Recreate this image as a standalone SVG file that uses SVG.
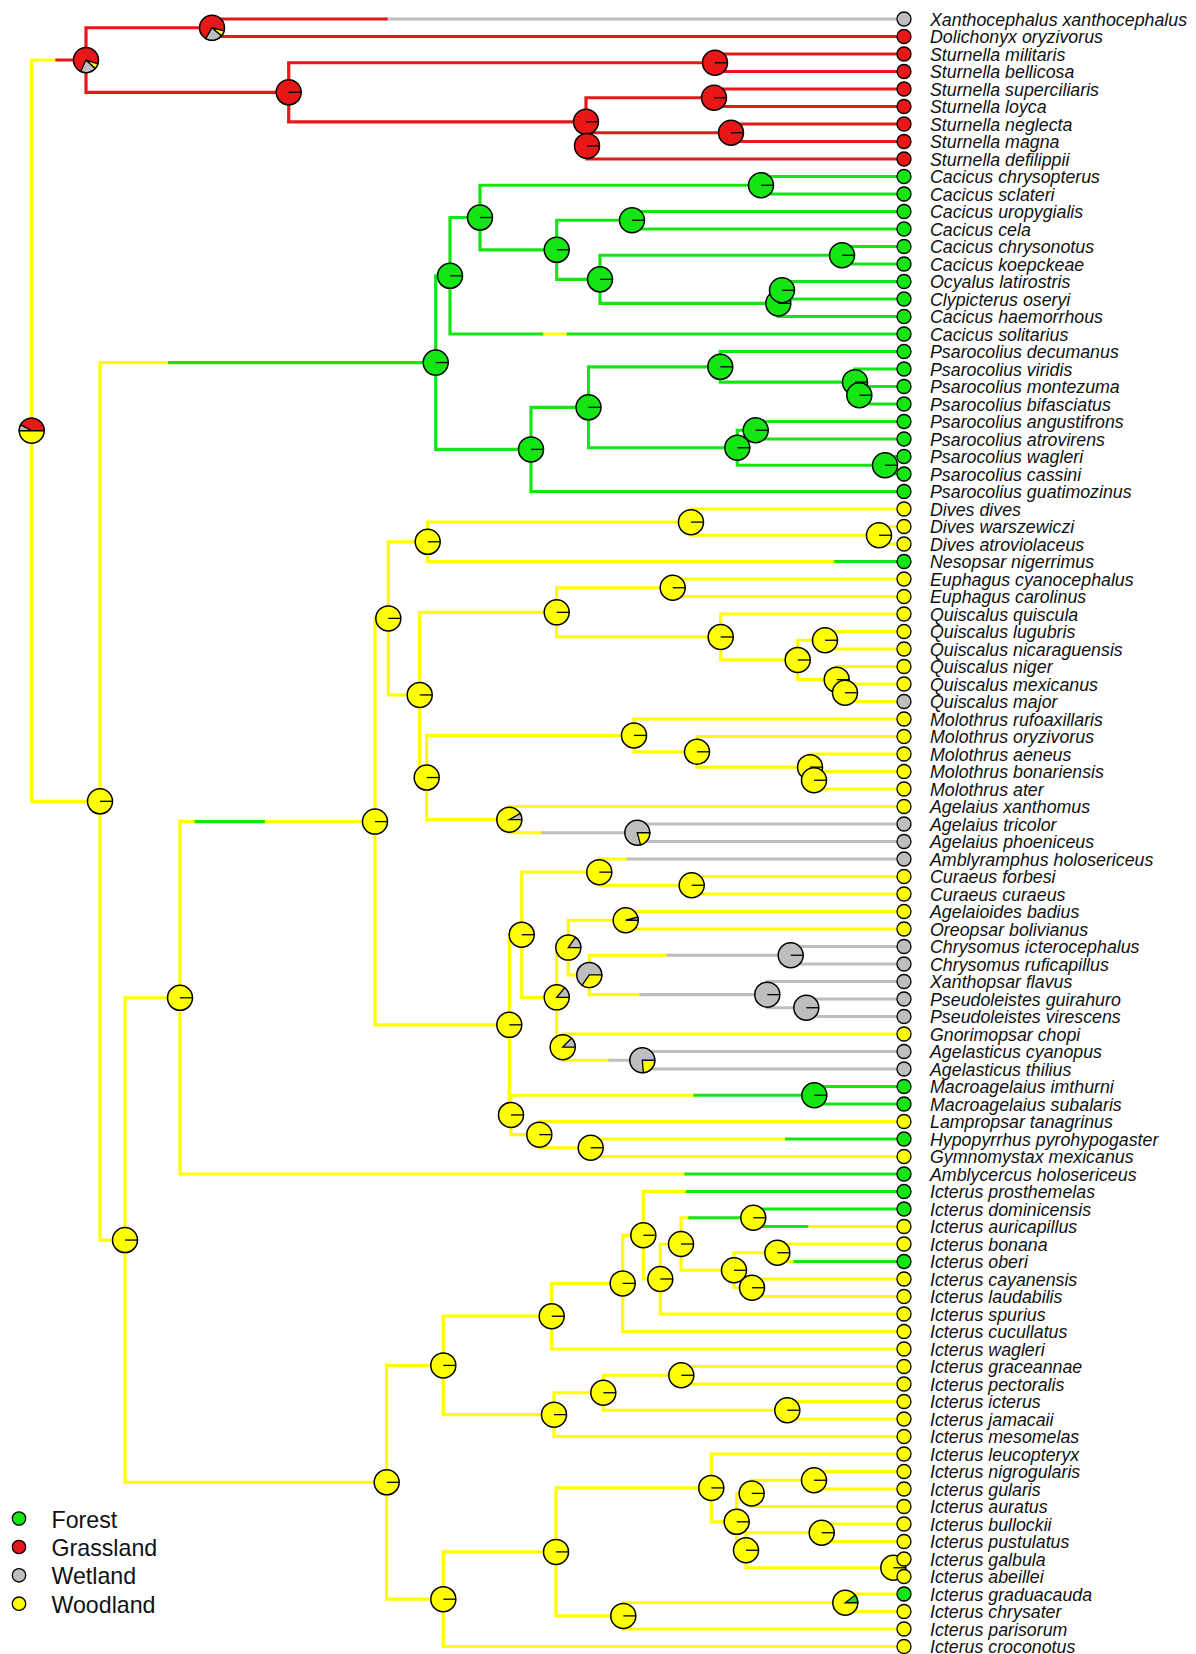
<svg xmlns="http://www.w3.org/2000/svg" width="1196" height="1654" viewBox="0 0 1196 1654">
<style>
.br{fill:none;stroke-width:3.2;stroke-linecap:square}
.cy{stroke:#ffff00}.cg{stroke:#14e614}.cw{stroke:#bebebe}.cr{stroke:#e81818}
.fy{fill:#ffff00}.fg{fill:#14e614}.fw{fill:#bebebe}.fr{fill:#e81818}
.n circle{stroke:#000;stroke-width:1.5}
.n path{stroke:#000;stroke-width:1.3}
.rad{fill:none}
.tip circle{stroke:#000;stroke-width:1.3}
.tip text{font-family:"Liberation Sans",Arial,sans-serif;font-style:italic;font-size:17.8px;fill:#111}
.leg circle{stroke:#000;stroke-width:1.3}
.leg text{font-family:"Liberation Sans",Arial,sans-serif;font-size:23.2px;fill:#111}
</style>
<rect width="1196" height="1654" fill="#fff"/>
<g id="connectors">
<path class="br cy" d="M31.7 60.02V801.3M31.7 60.02H57M31.7 801.3H100M100 362.58V1240.05M100 362.58H169.7M100 1240.05H125M541.7 334H568.3M125 997.8V1482.3M125 997.8H180M125 1482.3H386.7M180 821.61V1174M180 821.61H196M263.3 821.61H375M180 1174H686M375 618.38V1024.84M375 618.38H388.3M375 1024.84H509.3M388.3 541.81V694.94M388.3 541.81H427.7M388.3 694.94H419.7M427.7 522.13V561.5M427.7 522.13H691M427.7 561.5H835.7M691 509V535.25M691 509H904M691 535.25H879M879 526.5V544M879 526.5H904M879 544H904M419.7 612.36V777.52M419.7 612.36H556.7M419.7 777.52H426.7M556.7 587.75V636.97M556.7 587.75H672.7M556.7 636.97H720.7M672.7 579V596.5M672.7 579H904M672.7 596.5H904M720.7 614V659.94M720.7 614H904M720.7 659.94H797.7M797.7 640.25V679.63M797.7 640.25H825M797.7 679.63H836.7M825 631.5V649M825 631.5H904M825 649H904M836.7 666.5V692.75M836.7 666.5H904M836.7 692.75H845M845 684V701.5M845 684H904M845 701.5H904M426.7 735.41V819.63M426.7 735.41H634M426.7 819.63H509.3M634 719V751.81M634 719H904M634 751.81H697M697 736.5V767.13M697 736.5H904M697 767.13H810M810 754V780.25M810 754H904M810 780.25H814M814 771.5V789M814 771.5H904M814 789H904M509.3 806.5V832.75M509.3 806.5H904M509.3 832.75H542.7M509.3 934.74V1114.94M509.3 934.74H521.7M509.3 1114.94H511M521.7 872.13V997.36M521.7 872.13H599.3M521.7 997.36H556.7M599.3 859V885.25M599.3 859H628.3M599.3 885.25H691.7M691.7 876.5V894M691.7 876.5H904M691.7 894H904M556.7 947.59V1047.13M556.7 947.59H568.3M556.7 1047.13H562.7M568.3 920.25V974.94M568.3 920.25H625.7M568.3 974.94H589.3M625.7 911.5V929M625.7 911.5H904M625.7 929H904M589.3 955.25V994.63M589.3 955.25H668.3M589.3 994.63H641M562.7 1034V1060.25M562.7 1034H904M562.7 1060.25H610M511 1095.25V1134.63M511 1095.25H695M511 1134.63H539.3M539.3 1121.5V1147.75M539.3 1121.5H904M539.3 1147.75H590.7M590.7 1139V1156.5M590.7 1139H786.7M590.7 1156.5H904M386.7 1365.41V1599.2M386.7 1365.41H443.3M386.7 1599.2H443.3M443.3 1316.19V1414.63M443.3 1316.19H551.7M443.3 1414.63H554M551.7 1283.38V1349M551.7 1283.38H622.7M551.7 1349H904M622.7 1235.25V1331.5M622.7 1235.25H643.3M622.7 1331.5H904M643.3 1191.5V1279M643.3 1191.5H687.3M643.3 1279H660.3M660.3 1244V1314M660.3 1244H681M660.3 1314H904M681 1217.75V1270.25M681 1217.75H690M681 1270.25H734M806.7 1226.5H904M734 1252.75V1287.75M734 1252.75H777.3M734 1287.75H752M777.3 1244V1261.5M777.3 1244H904M777.3 1261.5H795M752 1279V1296.5M752 1279H904M752 1296.5H904M554 1392.75V1436.5M554 1392.75H603.3M554 1436.5H904M603.3 1375.25V1410.25M603.3 1375.25H681.3M603.3 1410.25H787.3M681.3 1366.5V1384M681.3 1366.5H904M681.3 1384H904M787.3 1401.5V1419M787.3 1401.5H904M787.3 1419H904M443.3 1551.89V1646.5M443.3 1551.89H556M443.3 1646.5H904M556 1487.91V1615.88M556 1487.91H711.3M556 1615.88H623.3M711.3 1454V1521.81M711.3 1454H904M711.3 1521.81H736.7M736.7 1493.38V1550.25M736.7 1493.38H751.7M736.7 1550.25H746M751.7 1480.25V1506.5M751.7 1480.25H814M751.7 1506.5H904M814 1471.5V1489M814 1471.5H904M814 1489H904M746 1532.75V1567.75M746 1532.75H821.7M746 1567.75H893.3M821.7 1524V1541.5M821.7 1524H904M821.7 1541.5H904M893.3 1559V1576.5M893.3 1559H904M893.3 1576.5H904M623.3 1602.75V1629M623.3 1602.75H845.3M623.3 1629H904M845.3 1594V1611.5M845.3 1594H904M845.3 1611.5H904"/>
<path class="br cg" d="M169.7 362.58H435.7M435.7 275.76V449.39M435.7 275.76H450M435.7 449.39H531M450 217.52V334M450 334H541.7M568.3 334H904M450 217.52H480M480 185.25V249.78M480 185.25H761M480 249.78H556.7M761 176.5V194M761 176.5H904M761 194H904M556.7 220.25V279.31M556.7 220.25H632M556.7 279.31H600M632 211.5V229M632 211.5H904M632 229H904M600 255.25V303.38M600 255.25H842M600 303.38H778.3M842 246.5V264M842 246.5H904M842 264H904M778.3 290.25V316.5M778.3 290.25H782M778.3 316.5H904M782 281.5V299M782 281.5H904M782 299H904M531 407.28V491.5M531 407.28H588.5M531 491.5H904M588.5 366.81V447.75M588.5 366.81H720.3M588.5 447.75H737.3M720.3 351.5V382.13M720.3 351.5H904M720.3 382.13H855M855 369V395.25M855 369H904M855 395.25H859.3M859.3 386.5V404M859.3 386.5H904M859.3 404H904M737.3 430.25V465.25M737.3 430.25H755.7M737.3 465.25H885M755.7 421.5V439M755.7 421.5H904M755.7 439H904M885 456.5V474M885 456.5H904M885 474H904M835.7 561.5H904M196 821.61H263.3M686 1174H904M695 1095.25H814.3M814.3 1086.5V1104M814.3 1086.5H904M814.3 1104H904M786.7 1139H904M687.3 1191.5H904M690 1217.75H753.3M753.3 1209V1226.5M753.3 1209H904M753.3 1226.5H806.7M795 1261.5H904"/>
<path class="br cw" d="M386 19H904M542.7 832.75H637.3M637.3 824V841.5M637.3 824H904M637.3 841.5H904M628.3 859H904M668.3 955.25H790.7M641 994.63H767.3M790.7 946.5V964M790.7 946.5H904M790.7 964H904M767.3 981.5V1007.75M767.3 981.5H904M767.3 1007.75H806.3M806.3 999V1016.5M806.3 999H904M806.3 1016.5H904M610 1060.25H642.3M642.3 1051.5V1069M642.3 1051.5H904M642.3 1069H904"/>
<path class="br cr" d="M57 60.02H86M86 27.75V92.28M86 27.75H212M86 92.28H288.7M212 19V36.5M212 19H386M212 36.5H904M288.7 62.75V121.81M288.7 62.75H715M288.7 121.81H586M715 54V71.5M715 54H904M715 71.5H904M586 97.75V145.88M586 97.75H714M586 145.88H587M714 89V106.5M714 89H904M714 106.5H904M587 132.75V159M587 132.75H731M587 159H904M731 124V141.5M731 124H904M731 141.5H904"/>
</g>
<g id="nodes" class="n">
<g id="n_root" transform="translate(31.7,430.7)"><circle r="12.5" class="fy"/><path class="fr" d="M0 0L12.5 0A12.5 12.5 0 0 0 -11.04 -5.87Z"/><path class="fw" d="M0 0L-11.04 -5.87A12.5 12.5 0 0 0 -12.5 0Z"/><path class="rad" d="M-12.5 0H12.5"/></g>
<g id="n_A" transform="translate(86,60.02)"><circle r="12.5" class="fr"/><path class="fw" d="M0 0L-5.28 11.33A12.5 12.5 0 0 0 9.29 8.36Z"/><path class="fy" d="M0 0L9.29 8.36A12.5 12.5 0 0 0 11.89 3.86Z"/></g>
<g id="n_B" transform="translate(212,27.75)"><circle r="12.5" class="fr"/><path class="fw" d="M0 0L-6.25 10.83A12.5 12.5 0 0 0 9.58 8.03Z"/><path class="fy" d="M0 0L9.58 8.03A12.5 12.5 0 0 0 12.07 3.24Z"/></g>
<g id="n_C" transform="translate(288.7,92.28)"><circle r="12.5" class="fr"/><path class="rad" d="M0 0H12.5"/></g>
<g id="n_D" transform="translate(715,62.75)"><circle r="12.5" class="fr"/><path class="rad" d="M0 0H12.5"/></g>
<g id="n_E" transform="translate(586,121.81)"><circle r="12.5" class="fr"/><path class="rad" d="M0 0H12.5"/></g>
<g id="n_F" transform="translate(714,97.75)"><circle r="12.5" class="fr"/><path class="rad" d="M0 0H12.5"/></g>
<g id="n_G" transform="translate(587,145.88)"><circle r="12.5" class="fr"/><path class="rad" d="M0 0H12.5"/></g>
<g id="n_H" transform="translate(731,132.75)"><circle r="12.5" class="fr"/><path class="rad" d="M0 0H12.5"/></g>
<g id="n_Cc1" transform="translate(761,185.25)"><circle r="12.5" class="fg"/><path class="rad" d="M0 0H12.5"/></g>
<g id="n_Cc2" transform="translate(480,217.52)"><circle r="12.5" class="fg"/><path class="rad" d="M0 0H12.5"/></g>
<g id="n_Cc3" transform="translate(556.7,249.78)"><circle r="12.5" class="fg"/><path class="rad" d="M0 0H12.5"/></g>
<g id="n_Cc4" transform="translate(600,279.31)"><circle r="12.5" class="fg"/><path class="rad" d="M0 0H12.5"/></g>
<g id="n_Cc5" transform="translate(450,275.76)"><circle r="12.5" class="fg"/><path class="rad" d="M0 0H12.5"/></g>
<g id="n_Cc6" transform="translate(632,220.25)"><circle r="12.5" class="fg"/><path class="rad" d="M0 0H12.5"/></g>
<g id="n_Cc7" transform="translate(842,255.25)"><circle r="12.5" class="fg"/><path class="rad" d="M0 0H12.5"/></g>
<g id="n_Cc9" transform="translate(778.3,303.38)"><circle r="12.5" class="fg"/><path class="rad" d="M0 0H12.5"/></g>
<g id="n_Cc8" transform="translate(782,290.25)"><circle r="12.5" class="fg"/><path class="rad" d="M0 0H12.5"/></g>
<g id="n_CP" transform="translate(435.7,362.58)"><circle r="12.5" class="fg"/><path class="rad" d="M0 0H12.5"/></g>
<g id="n_P8" transform="translate(531,449.39)"><circle r="12.5" class="fg"/><path class="rad" d="M0 0H12.5"/></g>
<g id="n_P7" transform="translate(588.5,407.28)"><circle r="12.5" class="fg"/><path class="rad" d="M0 0H12.5"/></g>
<g id="n_P3" transform="translate(720.3,366.81)"><circle r="12.5" class="fg"/><path class="rad" d="M0 0H12.5"/></g>
<g id="n_P2" transform="translate(855,382.13)"><circle r="12.5" class="fg"/><path class="rad" d="M0 0H12.5"/></g>
<g id="n_P1" transform="translate(859.3,395.25)"><circle r="12.5" class="fg"/><path class="rad" d="M0 0H12.5"/></g>
<g id="n_P6" transform="translate(737.3,447.75)"><circle r="12.5" class="fg"/><path class="rad" d="M0 0H12.5"/></g>
<g id="n_P4" transform="translate(755.7,430.25)"><circle r="12.5" class="fg"/><path class="rad" d="M0 0H12.5"/></g>
<g id="n_P5" transform="translate(885,465.25)"><circle r="12.5" class="fg"/><path class="rad" d="M0 0H12.5"/></g>
<g id="n_N2" transform="translate(100,801.3)"><circle r="12.5" class="fy"/><path class="rad" d="M0 0H12.5"/></g>
<g id="n_Q" transform="translate(125,1240.05)"><circle r="12.5" class="fy"/><path class="rad" d="M0 0H12.5"/></g>
<g id="n_R" transform="translate(180,997.8)"><circle r="12.5" class="fy"/><path class="rad" d="M0 0H12.5"/></g>
<g id="n_T" transform="translate(375,821.61)"><circle r="12.5" class="fy"/><path class="rad" d="M0 0H12.5"/></g>
<g id="n_U" transform="translate(388.3,618.38)"><circle r="12.5" class="fy"/><path class="rad" d="M0 0H12.5"/></g>
<g id="n_U1" transform="translate(427.7,541.81)"><circle r="12.5" class="fy"/><path class="rad" d="M0 0H12.5"/></g>
<g id="n_D1" transform="translate(691,522.13)"><circle r="12.5" class="fy"/><path class="rad" d="M0 0H12.5"/></g>
<g id="n_D2" transform="translate(879,535.25)"><circle r="12.5" class="fy"/><path class="rad" d="M0 0H12.5"/></g>
<g id="n_U2" transform="translate(419.7,694.94)"><circle r="12.5" class="fy"/><path class="rad" d="M0 0H12.5"/></g>
<g id="n_EQ" transform="translate(556.7,612.36)"><circle r="12.5" class="fy"/><path class="rad" d="M0 0H12.5"/></g>
<g id="n_Eu" transform="translate(672.7,587.75)"><circle r="12.5" class="fy"/><path class="rad" d="M0 0H12.5"/></g>
<g id="n_Q5" transform="translate(720.7,636.97)"><circle r="12.5" class="fy"/><path class="rad" d="M0 0H12.5"/></g>
<g id="n_Q4" transform="translate(797.7,659.94)"><circle r="12.5" class="fy"/><path class="rad" d="M0 0H12.5"/></g>
<g id="n_Q1" transform="translate(825,640.25)"><circle r="12.5" class="fy"/><path class="rad" d="M0 0H12.5"/></g>
<g id="n_Q3" transform="translate(836.7,679.63)"><circle r="12.5" class="fy"/><path class="rad" d="M0 0H12.5"/></g>
<g id="n_Q2" transform="translate(845,692.75)"><circle r="12.5" class="fy"/><path class="rad" d="M0 0H12.5"/></g>
<g id="n_U3" transform="translate(426.7,777.52)"><circle r="12.5" class="fy"/><path class="rad" d="M0 0H12.5"/></g>
<g id="n_M4" transform="translate(634,735.41)"><circle r="12.5" class="fy"/><path class="rad" d="M0 0H12.5"/></g>
<g id="n_M3" transform="translate(697,751.81)"><circle r="12.5" class="fy"/><path class="rad" d="M0 0H12.5"/></g>
<g id="n_M2" transform="translate(810,767.13)"><circle r="12.5" class="fy"/><path class="rad" d="M0 0H12.5"/></g>
<g id="n_M1" transform="translate(814,780.25)"><circle r="12.5" class="fy"/><path class="rad" d="M0 0H12.5"/></g>
<g id="n_AG2" transform="translate(509.3,819.63)"><circle r="12.5" class="fy"/><path class="fw" d="M0 0L12.5 0A12.5 12.5 0 0 0 10.83 -6.25Z"/></g>
<g id="n_AG1" transform="translate(637.3,832.75)"><circle r="12.5" class="fw"/><path class="fy" d="M0 0L3.24 12.07A12.5 12.5 0 0 0 12.5 0Z"/></g>
<g id="n_V" transform="translate(509.3,1024.84)"><circle r="12.5" class="fy"/><path class="rad" d="M0 0H12.5"/></g>
<g id="n_CB" transform="translate(521.7,934.74)"><circle r="12.5" class="fy"/><path class="rad" d="M0 0H12.5"/></g>
<g id="n_CU2" transform="translate(599.3,872.13)"><circle r="12.5" class="fy"/><path class="rad" d="M0 0H12.5"/></g>
<g id="n_CU1" transform="translate(691.7,885.25)"><circle r="12.5" class="fy"/><path class="rad" d="M0 0H12.5"/></g>
<g id="n_BG" transform="translate(556.7,997.36)"><circle r="12.5" class="fy"/><path class="fw" d="M0 0L12.5 0A12.5 12.5 0 0 0 8.03 -9.58Z"/></g>
<g id="n_BCX" transform="translate(568.3,947.59)"><circle r="12.5" class="fy"/><path class="fw" d="M0 0L12.5 0A12.5 12.5 0 0 0 7.17 -10.24Z"/></g>
<g id="n_B1" transform="translate(625.7,920.25)"><circle r="12.5" class="fy"/><path class="fw" d="M0 0L12.5 0A12.5 12.5 0 0 0 12.07 -3.24Z"/></g>
<g id="n_CX" transform="translate(589.3,974.94)"><circle r="12.5" class="fw"/><path class="fy" d="M0 0L-7.17 10.24A12.5 12.5 0 0 0 12.5 0Z"/></g>
<g id="n_C1" transform="translate(790.7,955.25)"><circle r="12.5" class="fw"/><path class="rad" d="M0 0H12.5"/></g>
<g id="n_XP" transform="translate(767.3,994.63)"><circle r="12.5" class="fw"/><path class="rad" d="M0 0H12.5"/></g>
<g id="n_PV" transform="translate(806.3,1007.75)"><circle r="12.5" class="fw"/><path class="rad" d="M0 0H12.5"/></g>
<g id="n_GA" transform="translate(562.7,1047.13)"><circle r="12.5" class="fy"/><path class="fw" d="M0 0L12.5 0A12.5 12.5 0 0 0 8.84 -8.84Z"/></g>
<g id="n_AT1" transform="translate(642.3,1060.25)"><circle r="12.5" class="fw"/><path class="fy" d="M0 0L1.09 12.45A12.5 12.5 0 0 0 12.5 0Z"/></g>
<g id="n_W" transform="translate(511,1114.94)"><circle r="12.5" class="fy"/><path class="rad" d="M0 0H12.5"/></g>
<g id="n_MA" transform="translate(814.3,1095.25)"><circle r="12.5" class="fg"/><path class="rad" d="M0 0H12.5"/></g>
<g id="n_X2" transform="translate(539.3,1134.63)"><circle r="12.5" class="fy"/><path class="rad" d="M0 0H12.5"/></g>
<g id="n_HG" transform="translate(590.7,1147.75)"><circle r="12.5" class="fy"/><path class="rad" d="M0 0H12.5"/></g>
<g id="n_S" transform="translate(386.7,1482.3)"><circle r="12.5" class="fy"/><path class="rad" d="M0 0H12.5"/></g>
<g id="n_I14" transform="translate(443.3,1365.41)"><circle r="12.5" class="fy"/><path class="rad" d="M0 0H12.5"/></g>
<g id="n_I9" transform="translate(551.7,1316.19)"><circle r="12.5" class="fy"/><path class="rad" d="M0 0H12.5"/></g>
<g id="n_I8" transform="translate(622.7,1283.38)"><circle r="12.5" class="fy"/><path class="rad" d="M0 0H12.5"/></g>
<g id="n_I7" transform="translate(643.3,1235.25)"><circle r="12.5" class="fy"/><path class="rad" d="M0 0H12.5"/></g>
<g id="n_I6" transform="translate(660.3,1279)"><circle r="12.5" class="fy"/><path class="rad" d="M0 0H12.5"/></g>
<g id="n_I5" transform="translate(681,1244)"><circle r="12.5" class="fy"/><path class="rad" d="M0 0H12.5"/></g>
<g id="n_I1" transform="translate(753.3,1217.75)"><circle r="12.5" class="fy"/><path class="rad" d="M0 0H12.5"/></g>
<g id="n_I4" transform="translate(734,1270.25)"><circle r="12.5" class="fy"/><path class="rad" d="M0 0H12.5"/></g>
<g id="n_I2" transform="translate(777.3,1252.75)"><circle r="12.5" class="fy"/><path class="rad" d="M0 0H12.5"/></g>
<g id="n_I3" transform="translate(752,1287.75)"><circle r="12.5" class="fy"/><path class="rad" d="M0 0H12.5"/></g>
<g id="n_I13" transform="translate(554,1414.63)"><circle r="12.5" class="fy"/><path class="rad" d="M0 0H12.5"/></g>
<g id="n_I12" transform="translate(603.3,1392.75)"><circle r="12.5" class="fy"/><path class="rad" d="M0 0H12.5"/></g>
<g id="n_I10" transform="translate(681.3,1375.25)"><circle r="12.5" class="fy"/><path class="rad" d="M0 0H12.5"/></g>
<g id="n_I11" transform="translate(787.3,1410.25)"><circle r="12.5" class="fy"/><path class="rad" d="M0 0H12.5"/></g>
<g id="n_I23" transform="translate(443.3,1599.2)"><circle r="12.5" class="fy"/><path class="rad" d="M0 0H12.5"/></g>
<g id="n_I22" transform="translate(556,1551.89)"><circle r="12.5" class="fy"/><path class="rad" d="M0 0H12.5"/></g>
<g id="n_I19" transform="translate(711.3,1487.91)"><circle r="12.5" class="fy"/><path class="rad" d="M0 0H12.5"/></g>
<g id="n_Y2" transform="translate(736.7,1521.81)"><circle r="12.5" class="fy"/><path class="rad" d="M0 0H12.5"/></g>
<g id="n_I16" transform="translate(751.7,1493.38)"><circle r="12.5" class="fy"/><path class="rad" d="M0 0H12.5"/></g>
<g id="n_I15" transform="translate(814,1480.25)"><circle r="12.5" class="fy"/><path class="rad" d="M0 0H12.5"/></g>
<g id="n_Y1" transform="translate(746,1550.25)"><circle r="12.5" class="fy"/><path class="rad" d="M0 0H12.5"/></g>
<g id="n_I17" transform="translate(821.7,1532.75)"><circle r="12.5" class="fy"/><path class="rad" d="M0 0H12.5"/></g>
<g id="n_I18" transform="translate(893.3,1567.75)"><circle r="12.5" class="fy"/><path class="rad" d="M0 0H12.5"/></g>
<g id="n_I21" transform="translate(623.3,1615.88)"><circle r="12.5" class="fy"/><path class="rad" d="M0 0H12.5"/></g>
<g id="n_I20" transform="translate(845.3,1602.75)"><circle r="12.5" class="fy"/><path class="fg" d="M0 0L12.5 0A12.5 12.5 0 0 0 9.85 -7.7Z"/></g>
</g>
<g id="tips" class="tip">
<g id="t01" transform="translate(0,19)"><circle cx="904" r="7" class="fw"/><text x="930" y="6.5">Xanthocephalus xanthocephalus</text></g>
<g id="t02" transform="translate(0,36.5)"><circle cx="904" r="7" class="fr"/><text x="930" y="6.5">Dolichonyx oryzivorus</text></g>
<g id="t03" transform="translate(0,54)"><circle cx="904" r="7" class="fr"/><text x="930" y="6.5">Sturnella militaris</text></g>
<g id="t04" transform="translate(0,71.5)"><circle cx="904" r="7" class="fr"/><text x="930" y="6.5">Sturnella bellicosa</text></g>
<g id="t05" transform="translate(0,89)"><circle cx="904" r="7" class="fr"/><text x="930" y="6.5">Sturnella superciliaris</text></g>
<g id="t06" transform="translate(0,106.5)"><circle cx="904" r="7" class="fr"/><text x="930" y="6.5">Sturnella loyca</text></g>
<g id="t07" transform="translate(0,124)"><circle cx="904" r="7" class="fr"/><text x="930" y="6.5">Sturnella neglecta</text></g>
<g id="t08" transform="translate(0,141.5)"><circle cx="904" r="7" class="fr"/><text x="930" y="6.5">Sturnella magna</text></g>
<g id="t09" transform="translate(0,159)"><circle cx="904" r="7" class="fr"/><text x="930" y="6.5">Sturnella defilippii</text></g>
<g id="t10" transform="translate(0,176.5)"><circle cx="904" r="7" class="fg"/><text x="930" y="6.5">Cacicus chrysopterus</text></g>
<g id="t11" transform="translate(0,194)"><circle cx="904" r="7" class="fg"/><text x="930" y="6.5">Cacicus sclateri</text></g>
<g id="t12" transform="translate(0,211.5)"><circle cx="904" r="7" class="fg"/><text x="930" y="6.5">Cacicus uropygialis</text></g>
<g id="t13" transform="translate(0,229)"><circle cx="904" r="7" class="fg"/><text x="930" y="6.5">Cacicus cela</text></g>
<g id="t14" transform="translate(0,246.5)"><circle cx="904" r="7" class="fg"/><text x="930" y="6.5">Cacicus chrysonotus</text></g>
<g id="t15" transform="translate(0,264)"><circle cx="904" r="7" class="fg"/><text x="930" y="6.5">Cacicus koepckeae</text></g>
<g id="t16" transform="translate(0,281.5)"><circle cx="904" r="7" class="fg"/><text x="930" y="6.5">Ocyalus latirostris</text></g>
<g id="t17" transform="translate(0,299)"><circle cx="904" r="7" class="fg"/><text x="930" y="6.5">Clypicterus oseryi</text></g>
<g id="t18" transform="translate(0,316.5)"><circle cx="904" r="7" class="fg"/><text x="930" y="6.5">Cacicus haemorrhous</text></g>
<g id="t19" transform="translate(0,334)"><circle cx="904" r="7" class="fg"/><text x="930" y="6.5">Cacicus solitarius</text></g>
<g id="t20" transform="translate(0,351.5)"><circle cx="904" r="7" class="fg"/><text x="930" y="6.5">Psarocolius decumanus</text></g>
<g id="t21" transform="translate(0,369)"><circle cx="904" r="7" class="fg"/><text x="930" y="6.5">Psarocolius viridis</text></g>
<g id="t22" transform="translate(0,386.5)"><circle cx="904" r="7" class="fg"/><text x="930" y="6.5">Psarocolius montezuma</text></g>
<g id="t23" transform="translate(0,404)"><circle cx="904" r="7" class="fg"/><text x="930" y="6.5">Psarocolius bifasciatus</text></g>
<g id="t24" transform="translate(0,421.5)"><circle cx="904" r="7" class="fg"/><text x="930" y="6.5">Psarocolius angustifrons</text></g>
<g id="t25" transform="translate(0,439)"><circle cx="904" r="7" class="fg"/><text x="930" y="6.5">Psarocolius atrovirens</text></g>
<g id="t26" transform="translate(0,456.5)"><circle cx="904" r="7" class="fg"/><text x="930" y="6.5">Psarocolius wagleri</text></g>
<g id="t27" transform="translate(0,474)"><circle cx="904" r="7" class="fg"/><text x="930" y="6.5">Psarocolius cassini</text></g>
<g id="t28" transform="translate(0,491.5)"><circle cx="904" r="7" class="fg"/><text x="930" y="6.5">Psarocolius guatimozinus</text></g>
<g id="t29" transform="translate(0,509)"><circle cx="904" r="7" class="fy"/><text x="930" y="6.5">Dives dives</text></g>
<g id="t30" transform="translate(0,526.5)"><circle cx="904" r="7" class="fy"/><text x="930" y="6.5">Dives warszewiczi</text></g>
<g id="t31" transform="translate(0,544)"><circle cx="904" r="7" class="fy"/><text x="930" y="6.5">Dives atroviolaceus</text></g>
<g id="t32" transform="translate(0,561.5)"><circle cx="904" r="7" class="fg"/><text x="930" y="6.5">Nesopsar nigerrimus</text></g>
<g id="t33" transform="translate(0,579)"><circle cx="904" r="7" class="fy"/><text x="930" y="6.5">Euphagus cyanocephalus</text></g>
<g id="t34" transform="translate(0,596.5)"><circle cx="904" r="7" class="fy"/><text x="930" y="6.5">Euphagus carolinus</text></g>
<g id="t35" transform="translate(0,614)"><circle cx="904" r="7" class="fy"/><text x="930" y="6.5">Quiscalus quiscula</text></g>
<g id="t36" transform="translate(0,631.5)"><circle cx="904" r="7" class="fy"/><text x="930" y="6.5">Quiscalus lugubris</text></g>
<g id="t37" transform="translate(0,649)"><circle cx="904" r="7" class="fy"/><text x="930" y="6.5">Quiscalus nicaraguensis</text></g>
<g id="t38" transform="translate(0,666.5)"><circle cx="904" r="7" class="fy"/><text x="930" y="6.5">Quiscalus niger</text></g>
<g id="t39" transform="translate(0,684)"><circle cx="904" r="7" class="fy"/><text x="930" y="6.5">Quiscalus mexicanus</text></g>
<g id="t40" transform="translate(0,701.5)"><circle cx="904" r="7" class="fw"/><text x="930" y="6.5">Quiscalus major</text></g>
<g id="t41" transform="translate(0,719)"><circle cx="904" r="7" class="fy"/><text x="930" y="6.5">Molothrus rufoaxillaris</text></g>
<g id="t42" transform="translate(0,736.5)"><circle cx="904" r="7" class="fy"/><text x="930" y="6.5">Molothrus oryzivorus</text></g>
<g id="t43" transform="translate(0,754)"><circle cx="904" r="7" class="fy"/><text x="930" y="6.5">Molothrus aeneus</text></g>
<g id="t44" transform="translate(0,771.5)"><circle cx="904" r="7" class="fy"/><text x="930" y="6.5">Molothrus bonariensis</text></g>
<g id="t45" transform="translate(0,789)"><circle cx="904" r="7" class="fy"/><text x="930" y="6.5">Molothrus ater</text></g>
<g id="t46" transform="translate(0,806.5)"><circle cx="904" r="7" class="fy"/><text x="930" y="6.5">Agelaius xanthomus</text></g>
<g id="t47" transform="translate(0,824)"><circle cx="904" r="7" class="fw"/><text x="930" y="6.5">Agelaius tricolor</text></g>
<g id="t48" transform="translate(0,841.5)"><circle cx="904" r="7" class="fw"/><text x="930" y="6.5">Agelaius phoeniceus</text></g>
<g id="t49" transform="translate(0,859)"><circle cx="904" r="7" class="fw"/><text x="930" y="6.5">Amblyramphus holosericeus</text></g>
<g id="t50" transform="translate(0,876.5)"><circle cx="904" r="7" class="fy"/><text x="930" y="6.5">Curaeus forbesi</text></g>
<g id="t51" transform="translate(0,894)"><circle cx="904" r="7" class="fy"/><text x="930" y="6.5">Curaeus curaeus</text></g>
<g id="t52" transform="translate(0,911.5)"><circle cx="904" r="7" class="fy"/><text x="930" y="6.5">Agelaioides badius</text></g>
<g id="t53" transform="translate(0,929)"><circle cx="904" r="7" class="fy"/><text x="930" y="6.5">Oreopsar bolivianus</text></g>
<g id="t54" transform="translate(0,946.5)"><circle cx="904" r="7" class="fw"/><text x="930" y="6.5">Chrysomus icterocephalus</text></g>
<g id="t55" transform="translate(0,964)"><circle cx="904" r="7" class="fw"/><text x="930" y="6.5">Chrysomus ruficapillus</text></g>
<g id="t56" transform="translate(0,981.5)"><circle cx="904" r="7" class="fw"/><text x="930" y="6.5">Xanthopsar flavus</text></g>
<g id="t57" transform="translate(0,999)"><circle cx="904" r="7" class="fw"/><text x="930" y="6.5">Pseudoleistes guirahuro</text></g>
<g id="t58" transform="translate(0,1016.5)"><circle cx="904" r="7" class="fw"/><text x="930" y="6.5">Pseudoleistes virescens</text></g>
<g id="t59" transform="translate(0,1034)"><circle cx="904" r="7" class="fy"/><text x="930" y="6.5">Gnorimopsar chopi</text></g>
<g id="t60" transform="translate(0,1051.5)"><circle cx="904" r="7" class="fw"/><text x="930" y="6.5">Agelasticus cyanopus</text></g>
<g id="t61" transform="translate(0,1069)"><circle cx="904" r="7" class="fw"/><text x="930" y="6.5">Agelasticus thilius</text></g>
<g id="t62" transform="translate(0,1086.5)"><circle cx="904" r="7" class="fg"/><text x="930" y="6.5">Macroagelaius imthurni</text></g>
<g id="t63" transform="translate(0,1104)"><circle cx="904" r="7" class="fg"/><text x="930" y="6.5">Macroagelaius subalaris</text></g>
<g id="t64" transform="translate(0,1121.5)"><circle cx="904" r="7" class="fy"/><text x="930" y="6.5">Lampropsar tanagrinus</text></g>
<g id="t65" transform="translate(0,1139)"><circle cx="904" r="7" class="fg"/><text x="930" y="6.5">Hypopyrrhus pyrohypogaster</text></g>
<g id="t66" transform="translate(0,1156.5)"><circle cx="904" r="7" class="fy"/><text x="930" y="6.5">Gymnomystax mexicanus</text></g>
<g id="t67" transform="translate(0,1174)"><circle cx="904" r="7" class="fg"/><text x="930" y="6.5">Amblycercus holosericeus</text></g>
<g id="t68" transform="translate(0,1191.5)"><circle cx="904" r="7" class="fg"/><text x="930" y="6.5">Icterus prosthemelas</text></g>
<g id="t69" transform="translate(0,1209)"><circle cx="904" r="7" class="fg"/><text x="930" y="6.5">Icterus dominicensis</text></g>
<g id="t70" transform="translate(0,1226.5)"><circle cx="904" r="7" class="fy"/><text x="930" y="6.5">Icterus auricapillus</text></g>
<g id="t71" transform="translate(0,1244)"><circle cx="904" r="7" class="fy"/><text x="930" y="6.5">Icterus bonana</text></g>
<g id="t72" transform="translate(0,1261.5)"><circle cx="904" r="7" class="fg"/><text x="930" y="6.5">Icterus oberi</text></g>
<g id="t73" transform="translate(0,1279)"><circle cx="904" r="7" class="fy"/><text x="930" y="6.5">Icterus cayanensis</text></g>
<g id="t74" transform="translate(0,1296.5)"><circle cx="904" r="7" class="fy"/><text x="930" y="6.5">Icterus laudabilis</text></g>
<g id="t75" transform="translate(0,1314)"><circle cx="904" r="7" class="fy"/><text x="930" y="6.5">Icterus spurius</text></g>
<g id="t76" transform="translate(0,1331.5)"><circle cx="904" r="7" class="fy"/><text x="930" y="6.5">Icterus cucullatus</text></g>
<g id="t77" transform="translate(0,1349)"><circle cx="904" r="7" class="fy"/><text x="930" y="6.5">Icterus wagleri</text></g>
<g id="t78" transform="translate(0,1366.5)"><circle cx="904" r="7" class="fy"/><text x="930" y="6.5">Icterus graceannae</text></g>
<g id="t79" transform="translate(0,1384)"><circle cx="904" r="7" class="fy"/><text x="930" y="6.5">Icterus pectoralis</text></g>
<g id="t80" transform="translate(0,1401.5)"><circle cx="904" r="7" class="fy"/><text x="930" y="6.5">Icterus icterus</text></g>
<g id="t81" transform="translate(0,1419)"><circle cx="904" r="7" class="fy"/><text x="930" y="6.5">Icterus jamacaii</text></g>
<g id="t82" transform="translate(0,1436.5)"><circle cx="904" r="7" class="fy"/><text x="930" y="6.5">Icterus mesomelas</text></g>
<g id="t83" transform="translate(0,1454)"><circle cx="904" r="7" class="fy"/><text x="930" y="6.5">Icterus leucopteryx</text></g>
<g id="t84" transform="translate(0,1471.5)"><circle cx="904" r="7" class="fy"/><text x="930" y="6.5">Icterus nigrogularis</text></g>
<g id="t85" transform="translate(0,1489)"><circle cx="904" r="7" class="fy"/><text x="930" y="6.5">Icterus gularis</text></g>
<g id="t86" transform="translate(0,1506.5)"><circle cx="904" r="7" class="fy"/><text x="930" y="6.5">Icterus auratus</text></g>
<g id="t87" transform="translate(0,1524)"><circle cx="904" r="7" class="fy"/><text x="930" y="6.5">Icterus bullockii</text></g>
<g id="t88" transform="translate(0,1541.5)"><circle cx="904" r="7" class="fy"/><text x="930" y="6.5">Icterus pustulatus</text></g>
<g id="t89" transform="translate(0,1559)"><circle cx="904" r="7" class="fy"/><text x="930" y="6.5">Icterus galbula</text></g>
<g id="t90" transform="translate(0,1576.5)"><circle cx="904" r="7" class="fy"/><text x="930" y="6.5">Icterus abeillei</text></g>
<g id="t91" transform="translate(0,1594)"><circle cx="904" r="7" class="fg"/><text x="930" y="6.5">Icterus graduacauda</text></g>
<g id="t92" transform="translate(0,1611.5)"><circle cx="904" r="7" class="fy"/><text x="930" y="6.5">Icterus chrysater</text></g>
<g id="t93" transform="translate(0,1629)"><circle cx="904" r="7" class="fy"/><text x="930" y="6.5">Icterus parisorum</text></g>
<g id="t94" transform="translate(0,1646.5)"><circle cx="904" r="7" class="fy"/><text x="930" y="6.5">Icterus croconotus</text></g>
</g>
<g id="legend" class="leg">
<circle cx="19" cy="1518.5" r="6.7" class="fg"/><text x="51.5" y="1527.5">Forest</text>
<circle cx="19" cy="1547" r="6.7" class="fr"/><text x="51.5" y="1556">Grassland</text>
<circle cx="19" cy="1575.3" r="6.7" class="fw"/><text x="51.5" y="1584.3">Wetland</text>
<circle cx="19" cy="1603.7" r="6.7" class="fy"/><text x="51.5" y="1612.7">Woodland</text>
</g>
</svg>
